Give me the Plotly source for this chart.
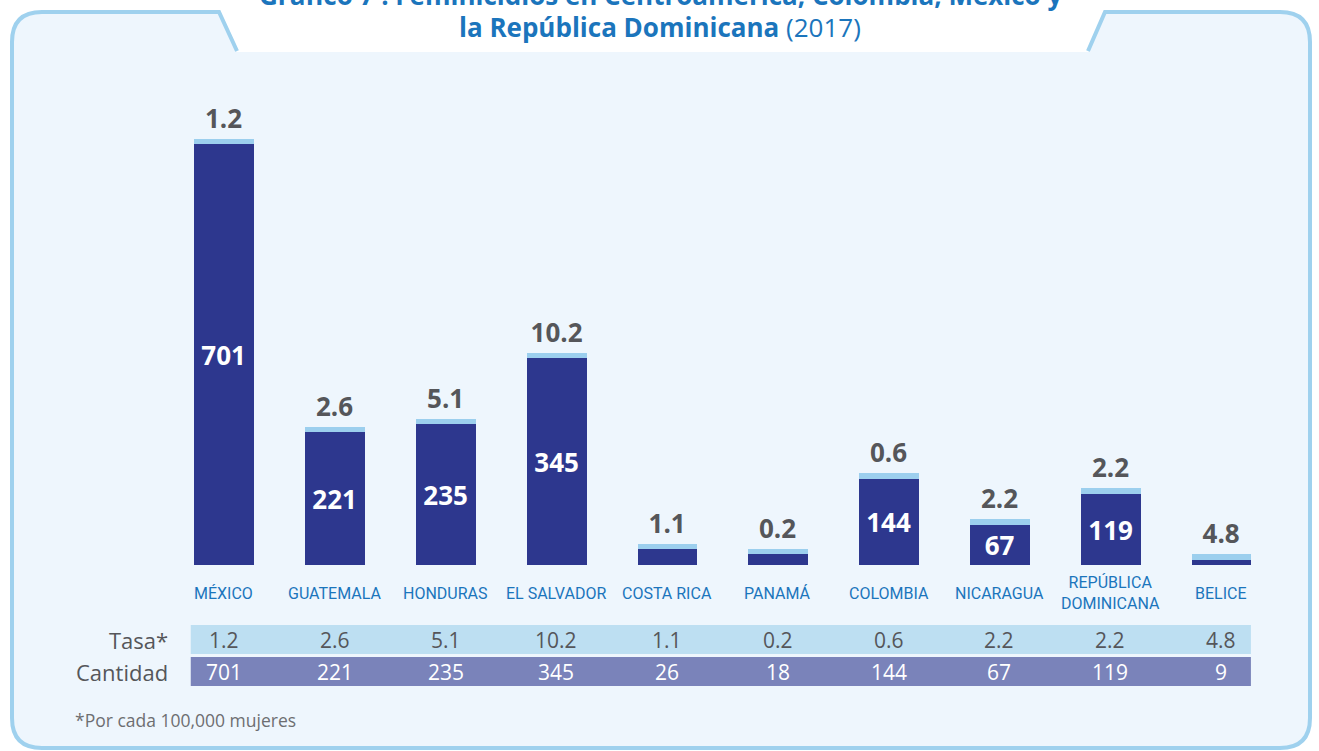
import plotly.graph_objects as go

# ---------------- data ----------------
countries = ["México", "Guatemala", "Honduras", "El Salvador", "Costa Rica",
             "Panamá", "Colombia", "Nicaragua", "República Dominicana", "Belice"]
tick_labels = ["MÉXICO", "GUATEMALA", "HONDURAS", "EL SALVADOR", "COSTA RICA",
               "PANAMÁ", "COLOMBIA", "NICARAGUA", "REPÚBLICA<br>DOMINICANA", "BELICE"]
tasa = [1.2, 2.6, 5.1, 10.2, 1.1, 0.2, 0.6, 2.2, 2.2, 4.8]
cantidad = [701, 221, 235, 345, 26, 18, 144, 67, 119, 9]

title_line1 = "Gráfico 7 : Feminicidios en Centroamérica, Colombia, México y"
title_line2 = "<b>la República Dominicana</b> (2017)"
row_labels = ["Tasa*", "Cantidad"]
footnote = "*Por cada 100,000 mujeres"

# ---------------- style ----------------
W, H = 1319, 751
DARK = "#2d378e"
CAP = "#9ccfee"
ROW1 = "#bddff2"
ROW2 = "#7a83ba"
GRAY = "#55565a"
BLUE = "#1b75bc"
BG = "#eef6fd"
FRAME = "#9fd1ee"
CAP_H = 9  # visual thickness of the light cap (axis units)
BAR_W = 0.54


def px(x):
    return x / W


def py(y):
    return 1 - y / H


fig = go.Figure()

fig.add_trace(go.Bar(
    x=countries, y=cantidad, width=BAR_W, marker=dict(color=DARK, line=dict(width=0)),
    text=[str(v) if v >= 50 else "" for v in cantidad],
    textposition="inside", insidetextanchor="middle", textangle=0,
    constraintext="none",
    textfont=dict(family="Open Sans", size=26, color="white", weight="bold"),
    hoverinfo="skip", cliponaxis=False,
))
fig.add_trace(go.Bar(
    x=countries, y=[CAP_H] * len(countries), width=BAR_W,
    marker=dict(color=CAP, line=dict(width=0)),
    text=[f"{v:.1f}" for v in tasa], textposition="outside", textangle=0,
    constraintext="none",
    textfont=dict(family="Open Sans", size=26, color=GRAY, weight="bold"),
    hoverinfo="skip", cliponaxis=False,
))

shapes = []
# background fill of the frame
fill_path = (
    f"M {px(12)},{py(42)} Q {px(12)},{py(12)} {px(42)},{py(12)} "
    f"L {px(219)},{py(12)} L {px(237)},{py(52)} L {px(1088)},{py(52)} "
    f"L {px(1105)},{py(12)} L {px(1280)},{py(12)} Q {px(1310)},{py(12)} {px(1310)},{py(42)} "
    f"L {px(1310)},{py(718)} Q {px(1310)},{py(748)} {px(1280)},{py(748)} "
    f"L {px(42)},{py(748)} Q {px(12)},{py(748)} {px(12)},{py(718)} Z"
)
shapes.append(dict(type="path", xref="paper", yref="paper", path=fill_path,
                   fillcolor=BG, line=dict(width=0), layer="below"))
# frame outline (open at the title notch)
frame_path = (
    f"M {px(237)},{py(51)} L {px(219)},{py(12)} L {px(42)},{py(12)} "
    f"Q {px(12)},{py(12)} {px(12)},{py(42)} L {px(12)},{py(718)} "
    f"Q {px(12)},{py(748)} {px(42)},{py(748)} L {px(1280)},{py(748)} "
    f"Q {px(1310)},{py(748)} {px(1310)},{py(718)} L {px(1310)},{py(42)} "
    f"Q {px(1310)},{py(12)} {px(1280)},{py(12)} L {px(1105)},{py(12)} L {px(1088)},{py(51)}"
)
shapes.append(dict(type="path", xref="paper", yref="paper", path=frame_path,
                   fillcolor="rgba(0,0,0,0)", line=dict(color=FRAME, width=4), layer="below"))

# table rows
n = len(countries)
tx0 = -BAR_W / 2 - 0.03
tx1 = (n - 1) + BAR_W / 2
shapes.append(dict(type="rect", xref="x", yref="paper", x0=tx0, x1=tx1,
                   y0=py(654), y1=py(625), fillcolor=ROW1, line=dict(width=0), layer="below"))
shapes.append(dict(type="rect", xref="x", yref="paper", x0=tx0, x1=tx1,
                   y0=py(686), y1=py(657), fillcolor=ROW2, line=dict(width=0), layer="below"))

annotations = []
# category labels
for c, lab in zip(countries, tick_labels):
    annotations.append(dict(x=c, xref="x", y=py(593), yref="paper", text=lab,
                            showarrow=False, xanchor="center", yanchor="middle",
                            font=dict(family="Roboto", size=16, color=BLUE)))
# table values
for c, t, q in zip(countries, tasa, cantidad):
    annotations.append(dict(x=c, xref="x", y=py(640), yref="paper", text=f"{t:.1f}",
                            showarrow=False, xanchor="center", yanchor="middle",
                            font=dict(family="Open Sans", size=21, color=GRAY)))
    annotations.append(dict(x=c, xref="x", y=py(672), yref="paper", text=str(q),
                            showarrow=False, xanchor="center", yanchor="middle",
                            font=dict(family="Open Sans", size=21, color="white")))
# row labels
for lab, yy in zip(row_labels, [640, 672]):
    annotations.append(dict(x=px(170), xref="paper", y=py(yy), yref="paper", text=lab,
                            showarrow=False, xanchor="right", yanchor="middle",
                            font=dict(family="Open Sans", size=22, color=GRAY)))
# footnote
annotations.append(dict(x=px(73), xref="paper", y=py(720), yref="paper", text=footnote,
                        showarrow=False, xanchor="left", yanchor="middle",
                        font=dict(family="Open Sans", size=17.5, color="#6d6e71")))
# title
annotations.append(dict(x=px(660), xref="paper", y=py(-5), yref="paper",
                        text="<b>" + title_line1 + "</b>",
                        showarrow=False, xanchor="center", yanchor="middle",
                        font=dict(family="Open Sans", size=26, color=BLUE)))
annotations.append(dict(x=px(660), xref="paper", y=py(27), yref="paper", text=title_line2,
                        showarrow=False, xanchor="center", yanchor="middle",
                        font=dict(family="Open Sans", size=26, color=BLUE)))

fig.update_layout(
    width=W, height=H, autosize=False,
    margin=dict(l=0, r=0, t=0, b=0, pad=0),
    paper_bgcolor="white", plot_bgcolor="rgba(0,0,0,0)",
    barmode="stack", bargap=0, showlegend=False,
    xaxis=dict(domain=[px(168.6), px(1276.4)], range=[-0.5, n - 0.5],
               showticklabels=False, showgrid=False, zeroline=False, showline=False,
               ticks="", fixedrange=True),
    yaxis=dict(domain=[py(565), py(100)], range=[0, 465 / 0.6],
               showticklabels=False, showgrid=False, zeroline=False, showline=False,
               ticks="", fixedrange=True),
    shapes=shapes, annotations=annotations,
)

fig.write_html("out.html", config={"displayModeBar": False})
